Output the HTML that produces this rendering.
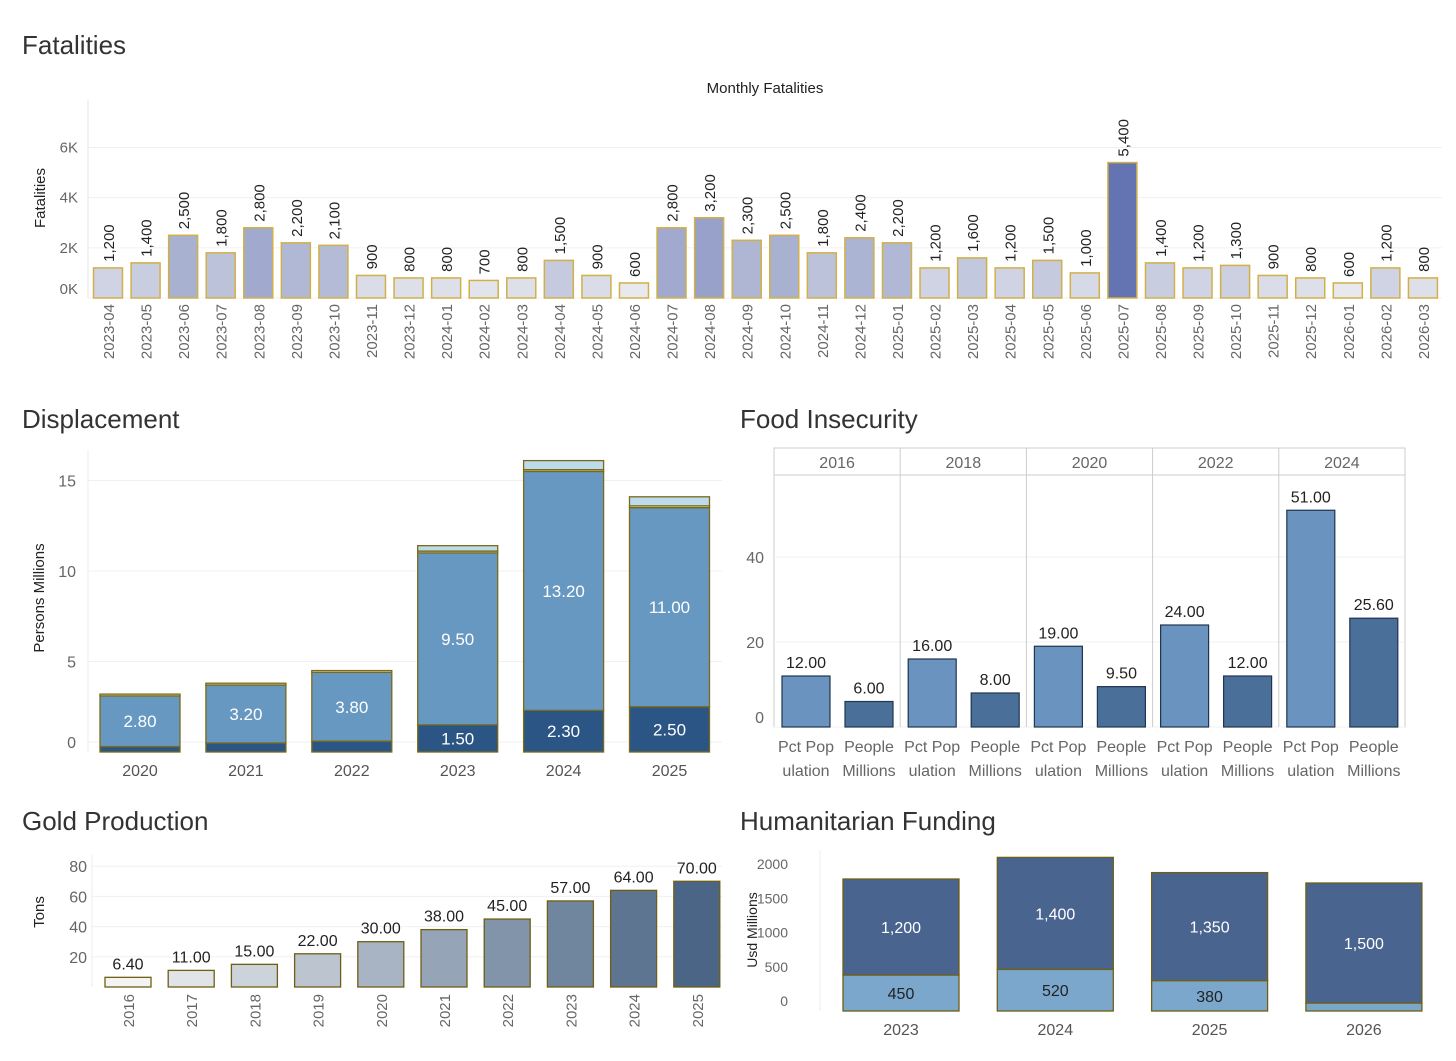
<!DOCTYPE html>
<html><head><meta charset="utf-8"><style>
body{margin:0;background:#fff;font-family:"Liberation Sans",sans-serif}
svg text{font-family:"Liberation Sans",sans-serif}
</style></head><body>
<svg id="s" width="1456" height="1056" xmlns="http://www.w3.org/2000/svg">
<text x="22" y="54" font-size="26" fill="#333">Fatalities</text>
<text x="765" y="93" font-size="15" text-anchor="middle" fill="#222">Monthly Fatalities</text>
<text x="22" y="428" font-size="26" fill="#333">Displacement</text>
<text x="740" y="428" font-size="26" fill="#333">Food Insecurity</text>
<text x="22" y="830" font-size="26" fill="#333">Gold Production</text>
<text x="740" y="830" font-size="26" fill="#333">Humanitarian Funding</text>
<g id="g"></g>
</svg>
<script>
const fatMonths=["2023-04","2023-05","2023-06","2023-07","2023-08","2023-09","2023-10","2023-11","2023-12","2024-01","2024-02","2024-03","2024-04","2024-05","2024-06","2024-07","2024-08","2024-09","2024-10","2024-11","2024-12","2025-01","2025-02","2025-03","2025-04","2025-05","2025-06","2025-07","2025-08","2025-09","2025-10","2025-11","2025-12","2026-01","2026-02","2026-03"];
const fatValues=[1200,1400,2500,1800,2800,2200,2100,900,800,800,700,800,1500,900,600,2800,3200,2300,2500,1800,2400,2200,1200,1600,1200,1500,1000,5400,1400,1200,1300,900,800,600,1200,800];
const fatTicks=[0,2000,4000,6000];
const fatTickLabels=["0K","2K","4K","6K"];
const dispYears=["2020","2021","2022","2023","2024","2025"];
const dispDark=[0.3,0.5,0.6,1.5,2.3,2.5];
const dispMid=[2.8,3.2,3.8,9.5,13.2,11.0];
const dispYellow=[0.1,0.1,0.1,0.1,0.1,0.1];
const dispLight=[0.0,0.0,0.0,0.3,0.5,0.5];
const dispTicks=[0,5,10,15];
const foodYears=["2016","2018","2020","2022","2024"];
const foodPct=[12,16,19,24,51];
const foodPeople=[6,8,9.5,12,25.6];
const foodTicks=[0,20,40];
const goldYears=["2016","2017","2018","2019","2020","2021","2022","2023","2024","2025"];
const goldValues=[6.4,11,15,22,30,38,45,57,64,70];
const goldTicks=[20,40,60,80];
const humYears=["2023","2024","2025","2026"];
const humBottom=[450,520,380,100];
const humTop=[1200,1400,1350,1500];
const humTicks=[0,500,1000,1500,2000];

const G=document.getElementById('g');const NS="http://www.w3.org/2000/svg";
function el(t,a,txt){const e=document.createElementNS(NS,t);for(const k in a)e.setAttribute(k,a[k]);if(txt!==undefined)e.textContent=txt;G.appendChild(e);return e;}
function lerp(c1,c2,t){const a=[1,3,5].map(i=>parseInt(c1.substr(i,2),16)),b=[1,3,5].map(i=>parseInt(c2.substr(i,2),16));return "rgb("+a.map((v,i)=>Math.round(v+(b[i]-v)*t)).join(",")+")";}
const fmt=v=>v.toLocaleString("en-US");

// Fatalities
{const y=v=>298-v*0.02508, x=i=>108+i*37.57;
let e=el('line',{x1:88,y1:100,x2:88,y2:298,stroke:'#e6e6e6'});
fatTicks.forEach((t,i)=>{let l=el('line',{x1:88,x2:1442,y1:y(t),y2:y(t),stroke:'#f0f0f0'});
let tx=el('text',{x:78,y:y(t)+(i==0?-4:5),'font-size':15,fill:'#666','text-anchor':'end'},fatTickLabels[i]);});
let yt=el('text',{transform:'translate(45,198) rotate(-90)','font-size':15,fill:'#222','text-anchor':'middle'},'Fatalities');
const mx=Math.max(...fatValues),mn=Math.min(...fatValues);
fatValues.forEach((v,i)=>{const t=(v-mn)/(mx-mn);
let r=el('rect',{x:x(i)-14.5,y:y(v),width:29,height:298-y(v),fill:lerp('#e8e9ee','#6474b2',Math.pow(t,0.8)),stroke:'#d2b048','stroke-width':1.5});
let lb=el('text',{transform:`translate(${x(i)+6},${y(v)-6}) rotate(-90)`,'font-size':15,fill:'#222'},fmt(v));
let ml=el('text',{transform:`translate(${x(i)+6},304) rotate(-90)`,'font-size':15,fill:'#666','text-anchor':'end'},fatMonths[i]);});}

// Displacement
{const y=v=>752-v*18.1,x=i=>140+i*105.9,w=80;
dispTicks.forEach(t=>{let l=el('line',{x1:88,x2:722,y1:y(t)-10*(t==0),y2:y(t)-10*(t==0),stroke:'#f0f0f0'});
let tx=el('text',{x:76,y:y(t)+(t==0?-4:6),'font-size':16,fill:'#666','text-anchor':'end'},t);});
let a=el('line',{x1:88,x2:88,y1:450,y2:752,stroke:'#eee'});
let yt=el('text',{transform:'translate(44,598) rotate(-90)','font-size':15,fill:'#222','text-anchor':'middle'},'Persons Millions');
const segs=[[dispDark,'#2b5585'],[dispMid,'#6698c2'],[dispYellow,'#e6e0a8'],[dispLight,'#bcdcec']];
dispYears.forEach((yr,i)=>{let base=0;segs.forEach(([arr,c],k)=>{const v=arr[i];if(v>0){let r=el('rect',{x:x(i)-w/2,y:y(base+v),width:w,height:v*18.1,fill:c,stroke:'#7a6a1a','stroke-width':1.3});}base+=v;});
let l1=el('text',{x:x(i),y:y(dispDark[i]+dispMid[i]/2)+6,'font-size':17,fill:'#fff','text-anchor':'middle'},dispMid[i].toFixed(2));
if(dispDark[i]>=1){let l2=el('text',{x:x(i),y:y(dispDark[i]/2)+6,'font-size':17,fill:'#fff','text-anchor':'middle'},dispDark[i].toFixed(2));}
let xl=el('text',{x:x(i),y:776,'font-size':16,fill:'#555','text-anchor':'middle'},yr);});}

// Food insecurity
{const y=v=>727-v*4.25,pw=126.2,x0=774;
let fr=el('rect',{x:x0,y:448,width:pw*5,height:279,fill:'none',stroke:'#ccc'});
el('line',{x1:x0,x2:x0+pw*5,y1:475,y2:475,stroke:'#ccc'});
foodTicks.forEach(t=>{let tx=el('text',{x:764,y:y(t)+(t==0?-4:6),'font-size':16,fill:'#666','text-anchor':'end'},t);
let l=el('line',{x1:x0,x2:x0+pw*5,y1:y(t),y2:y(t),stroke:'#f2f2f2'});});
foodYears.forEach((yr,i)=>{const px=x0+i*pw;
if(i>0)el('line',{x1:px,x2:px,y1:448,y2:727,stroke:'#ccc'});
let h=el('text',{x:px+pw/2,y:468,'font-size':16,fill:'#666','text-anchor':'middle'},yr);
[[foodPct[i],'#6a93bf',px+32,'Pct Pop','ulation'],[foodPeople[i],'#4a709a',px+95,'People','Millions']].forEach(([v,c,cx,a,b])=>{
let r=el('rect',{x:cx-24,y:y(v),width:48,height:v*4.25,fill:c,stroke:'#1f3550','stroke-width':1.2});
let lb=el('text',{x:cx,y:y(v)-8,'font-size':16,fill:'#222','text-anchor':'middle'},v.toFixed(2));
let t1=el('text',{x:cx,y:752,'font-size':16,fill:'#666','text-anchor':'middle'},a);
let t2=el('text',{x:cx,y:776,'font-size':16,fill:'#666','text-anchor':'middle'},b);});});}

// Gold
{const y=v=>987-v*1.51,x=i=>128+i*63.2;
goldTicks.forEach(t=>{let l=el('line',{x1:92,x2:722,y1:y(t),y2:y(t),stroke:'#f0f0f0'});
let tx=el('text',{x:87,y:y(t)+6,'font-size':16,fill:'#666','text-anchor':'end'},t);});
el('line',{x1:92,x2:92,y1:855,y2:987,stroke:'#eee'});
let yt=el('text',{transform:'translate(44,912) rotate(-90)','font-size':15,fill:'#222','text-anchor':'middle'},'Tons');
goldValues.forEach((v,i)=>{const t=i/(goldValues.length-1);
let r=el('rect',{x:x(i)-23,y:y(v),width:46,height:v*1.51,fill:lerp('#f3f3f4','#4a6585',t),stroke:'#6e5f14','stroke-width':1.3});
let lb=el('text',{x:x(i),y:y(v)-8,'font-size':16,fill:'#222','text-anchor':'middle'},v.toFixed(2));
let xl=el('text',{transform:`translate(${x(i)+6},994) rotate(-90)`,'font-size':15,fill:'#666','text-anchor':'end'},goldYears[i]);});}

// Humanitarian
{const y=v=>1011-v*0.08,ty=v=>1000-v*0.0685,x=i=>901+i*154.3,w=116;
humTicks.forEach(t=>{let tx=el('text',{x:788,y:ty(t)+6,'font-size':14,fill:'#666','text-anchor':'end'},t);});
el('line',{x1:820,x2:820,y1:850,y2:1011,stroke:'#eee'});
let yt=el('text',{transform:'translate(757,930) rotate(-90)','font-size':14,fill:'#222','text-anchor':'middle'},'Usd Millions');
humYears.forEach((yr,i)=>{const b=humBottom[i],t=humTop[i];
let r1=el('rect',{x:x(i)-w/2,y:y(b),width:w,height:b*0.08,fill:'#7ba7cc',stroke:'#6e5f14','stroke-width':1.3});
let r2=el('rect',{x:x(i)-w/2,y:y(b+t),width:w,height:t*0.08,fill:'#4a6490',stroke:'#6e5f14','stroke-width':1.3});
let l2=el('text',{x:x(i),y:y(b+t/2)+6,'font-size':16,fill:'#fff','text-anchor':'middle'},fmt(t));
if(b>=200){let l1=el('text',{x:x(i),y:y(b/2)+6,'font-size':16,fill:'#222','text-anchor':'middle'},fmt(b));}
let xl=el('text',{x:x(i),y:1035,'font-size':16,fill:'#555','text-anchor':'middle'},yr);});}
</script>
</body></html>
